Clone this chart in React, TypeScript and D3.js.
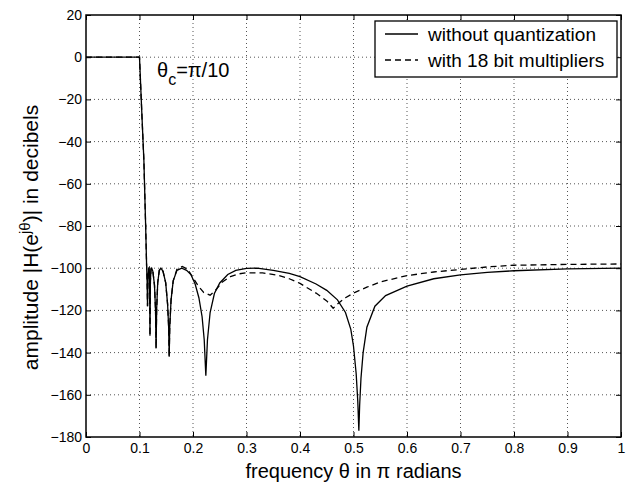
import React, { useEffect, useRef } from "react";
import * as d3 from "d3";

// ---- data (frequency in pi radians, amplitude in dB) ----
const solidTheta = [
  0, 0.1, 0.1041, 0.1082, 0.1115, 0.1134, 0.1142, 0.115, 0.1158, 0.1168, 0.1178,
  0.1188, 0.1196, 0.1204, 0.1215, 0.1228, 0.125, 0.128, 0.13, 0.131, 0.132, 0.134,
  0.137, 0.14, 0.144, 0.149, 0.1525, 0.1545, 0.1555, 0.1565, 0.159, 0.163, 0.17,
  0.179, 0.188, 0.196, 0.204, 0.211, 0.217, 0.221, 0.224, 0.227, 0.232, 0.24, 0.25,
  0.265, 0.28, 0.3, 0.32, 0.35, 0.38, 0.4, 0.43, 0.45, 0.47, 0.485, 0.495, 0.5,
  0.505, 0.508, 0.51, 0.5115, 0.514, 0.518, 0.525, 0.54, 0.56, 0.6, 0.65, 0.7,
  0.75, 0.8, 0.9, 1.0,
];
const solidDb = [
  0, 0, -25, -49, -80, -100, -106, -118, -106, -100.5, -100,
  -104, -132, -106, -100.5, -100, -101.5, -108, -120, -138, -120, -107,
  -101, -100, -101.5, -107, -117, -128, -142, -128, -115, -106, -101,
  -100, -101, -103, -107.5, -114, -123, -134, -151, -134, -121, -112, -107,
  -103, -101, -100.1, -100, -101, -102.5, -104, -107.5, -110.5, -115, -121, -129, -137,
  -150, -163, -177, -165, -152, -140, -128, -118, -113, -108.5, -105, -103.2,
  -102, -101.2, -100.3, -100,
];

const dashedTheta = [
  0, 0.1, 0.1041, 0.1082, 0.1115, 0.1134, 0.1142, 0.115, 0.1158, 0.1168, 0.1178,
  0.1188, 0.1196, 0.1204, 0.1215, 0.1228, 0.125, 0.128, 0.13, 0.131, 0.132, 0.134,
  0.137, 0.14, 0.144, 0.149, 0.1525, 0.1545, 0.1555, 0.1565, 0.159, 0.163, 0.17,
  0.18, 0.19, 0.2, 0.21, 0.22, 0.232, 0.242, 0.255, 0.27, 0.285, 0.3, 0.33, 0.36,
  0.38, 0.4, 0.43, 0.45, 0.462, 0.47, 0.485, 0.5, 0.525, 0.55, 0.6, 0.65, 0.7, 0.75,
  0.8, 0.9, 1.0,
];
const dashedDb = [
  0, 0, -25, -49, -80, -100, -106, -118, -106, -100.5, -100,
  -104, -132, -106, -100.5, -100, -101.5, -108, -120, -138, -120, -107,
  -101, -100, -101.5, -107, -117, -128, -142, -128, -115, -106, -100.5,
  -99.2, -100.5, -104.5, -108.5, -111.5, -112.8, -110.5, -106.5, -104, -102.7, -102.2, -102.2, -103.4,
  -105, -107.2, -111.8, -115.5, -119, -117, -114, -111.8, -109, -106.5, -103.5, -101.8, -100.6, -99.4,
  -98.6, -98.2, -98,
];

const xTicks = [0, 0.1, 0.2, 0.3, 0.4, 0.5, 0.6, 0.7, 0.8, 0.9, 1];
const yTicks = [-180, -160, -140, -120, -100, -80, -60, -40, -20, 0, 20];

const legendLabels = ["without quantization", "with 18 bit multipliers"];

const FONT = "'Liberation Sans', Arial, Helvetica, sans-serif";

function App() {
  const ref = useRef(null);

  useEffect(() => {
    const svg = d3.select(ref.current);
    svg.selectAll("*").remove();

    const left = 86, right = 621, top = 15, bottom = 437;

    const xScale = d3.scaleLinear().domain([0, 1]).range([left, right]);
    const yScale = d3.scaleLinear().domain([-180, 20]).range([bottom, top]);

    // grid
    const grid = svg.append("g").attr("stroke", "#555").attr("stroke-width", 1)
      .attr("stroke-dasharray", "1,3");
    xTicks.slice(1, -1).forEach((t) => {
      grid.append("line")
        .attr("x1", xScale(t)).attr("x2", xScale(t))
        .attr("y1", top).attr("y2", bottom);
    });
    yTicks.slice(1, -1).forEach((t) => {
      grid.append("line")
        .attr("x1", left).attr("x2", right)
        .attr("y1", yScale(t)).attr("y2", yScale(t));
    });

    // axes, ticks point inward like matlab
    const xAxisB = d3.axisBottom(xScale).tickValues(xTicks).tickSize(-5)
      .tickFormat((d) => d3.format("~g")(d));
    const xAxisT = d3.axisTop(xScale).tickValues(xTicks).tickSize(-5).tickFormat(() => "");
    const yAxisL = d3.axisLeft(yScale).tickValues(yTicks).tickSize(-5)
      .tickFormat((d) => (d < 0 ? "\u2212" + Math.abs(d) : String(d)));
    const yAxisR = d3.axisRight(yScale).tickValues(yTicks).tickSize(-5).tickFormat(() => "");

    const styleAxis = (g) => {
      g.select(".domain").remove();
      g.selectAll(".tick line").attr("stroke", "#000").attr("stroke-width", 1);
      g.selectAll(".tick text").attr("fill", "#000")
        .style("font-family", FONT).style("font-size", "14px");
    };

    svg.append("g").attr("transform", `translate(0,${bottom})`).call(xAxisB).call(styleAxis)
      .selectAll(".tick text").attr("y", 5).attr("dy", "0.8em");
    svg.append("g").attr("transform", `translate(0,${top})`).call(xAxisT).call(styleAxis);
    svg.append("g").attr("transform", `translate(${left},0)`).call(yAxisL).call(styleAxis)
      .selectAll(".tick text").attr("x", -4);
    svg.append("g").attr("transform", `translate(${right},0)`).call(yAxisR).call(styleAxis);

    // curves
    const line = d3.line().x((d) => xScale(d[0])).y((d) => yScale(d[1]));
    const solid = d3.zip(solidTheta, solidDb);
    const dashed = d3.zip(dashedTheta, dashedDb);

    svg.append("path").datum(dashed).attr("d", line).attr("fill", "none")
      .attr("stroke", "#000").attr("stroke-width", 1.3).attr("stroke-dasharray", "6,4");
    svg.append("path").datum(solid).attr("d", line).attr("fill", "none")
      .attr("stroke", "#000").attr("stroke-width", 1.3);

    // box
    svg.append("rect").attr("x", left).attr("y", top)
      .attr("width", right - left).attr("height", bottom - top)
      .attr("fill", "none").attr("stroke", "#000").attr("stroke-width", 1.5);

    // legend
    const lg = svg.append("g");
    lg.append("rect").attr("x", 375).attr("y", 21).attr("width", 242).attr("height", 56)
      .attr("fill", "#fff").attr("stroke", "#000").attr("stroke-width", 1.3);
    legendLabels.forEach((lab, i) => {
      const cy = 34 + i * 26;
      lg.append("line").attr("x1", 385).attr("x2", 418).attr("y1", cy).attr("y2", cy)
        .attr("stroke", "#000").attr("stroke-width", 1.3)
        .attr("stroke-dasharray", i === 1 ? "6,4" : null);
      lg.append("text").attr("x", 428).attr("y", cy).attr("dy", "0.35em")
        .style("font-family", FONT).style("font-size", "19px").text(lab);
    });

    // theta_c annotation
    const ann = svg.append("text").attr("x", 157).attr("y", 77)
      .style("font-family", FONT).style("font-size", "20px");
    ann.append("tspan").text("\u03b8");
    ann.append("tspan").attr("dy", 8).style("font-size", "16px").text("c");
    ann.append("tspan").attr("dy", -8).text("=\u03c0/10");

    // axis labels
    svg.append("text").attr("x", (left + right) / 2).attr("y", 478)
      .attr("text-anchor", "middle").style("font-family", FONT).style("font-size", "20px")
      .text("frequency \u03b8 in \u03c0 radians");

    const yl = svg.append("text")
      .attr("transform", `translate(38,${(93 + 382) / 2}) rotate(-90)`)
      .attr("text-anchor", "middle").style("font-family", FONT).style("font-size", "21px");
    yl.append("tspan").text("amplitude |H(e");
    yl.append("tspan").attr("dy", -8).style("font-size", "15px").text("j\u03b8");
    yl.append("tspan").attr("dy", 8).text(")| in decibels");
  }, []);

  return (
    <svg ref={ref} width={630} height={483}
      style={{ position: "absolute", left: 0, top: 0, background: "#fff" }} />
  );
}

export default App;
